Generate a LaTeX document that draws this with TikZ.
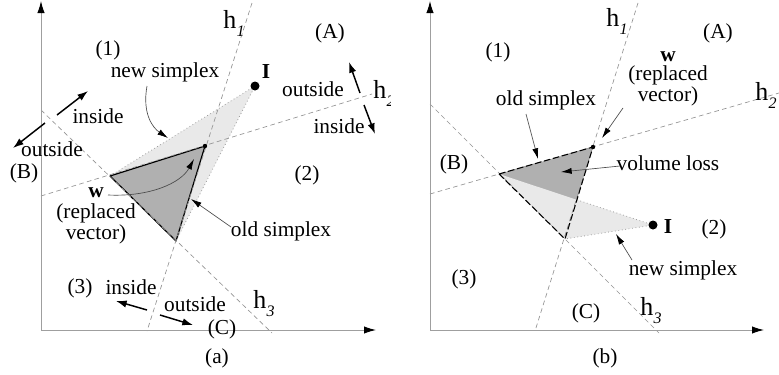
\documentclass[tikz,border=0pt]{standalone}
\usepackage{fontspec}
\setmainfont{Liberation Serif}
\usetikzlibrary{arrows.meta,calc,intersections}
\newcommand{\hsub}[1]{h\kern0.3pt\raisebox{-6pt}{\fontsize{12}{12}\selectfont\itshape #1}}
\begin{document}
\begin{tikzpicture}[x=0.75pt,y=-0.75pt,
  every node/.style={inner sep=0pt,font=\fontsize{16}{17}\selectfont},
  hline/.style={draw=gray!85,dash pattern=on 3.5pt off 2.5pt,line width=0.5pt},
  axisline/.style={draw=gray!75,line width=0.7pt,-{Latex[length=9pt,width=5.5pt,color=black]}},
  ann/.style={draw=gray!60!black,line width=0.5pt,-{Latex[length=8pt,width=4.5pt,color=black]}},
  dirarrow/.style={draw=black,line width=1.1pt,-{Latex[length=8pt,width=5.5pt]}},
  hlab/.style={anchor=base west,font=\fontsize{19.5}{20}\selectfont},
  darkfill/.style={fill=gray!62},
  lightfill/.style={fill=gray!17},
  newedge/.style={draw=gray!75,dotted,line width=0.6pt},
  oldsolid/.style={draw=black,line width=0.9pt,line join=round},
  olddash/.style={draw=black,line width=0.8pt,dash pattern=on 5pt off 2pt},
  bold/.style={font=\fontsize{16}{17}\selectfont\bfseries},
]
\useasboundingbox (0,0) rectangle (779,375);

% ================= panel (a) =================
\begin{scope}
\clip (0,0) rectangle (390,375);
\coordinate (aB) at (110,176);
\coordinate (aW) at (205,146);
\coordinate (aC) at (176,241);
\coordinate (aI) at (255,86);
\fill[lightfill] (aB) -- (aI) -- (aC) -- cycle;
\draw[newedge] (aB) -- (aI) -- (aC);
\filldraw[darkfill,oldsolid] (aB) -- (aW) -- (aC) -- cycle;
% hyperplanes
\coordinate (ah1s) at (252,3);   \coordinate (ah1e) at (147,331);
\coordinate (ah2s) at (41,196);  \coordinate (ah2e) at (372,94);
\coordinate (ah3s) at (41,110);  \coordinate (ah3e) at (272,333);
\draw[hline] (ah1s) -- (ah1e);
\draw[hline] (ah2s) -- (ah2e);
\draw[hline] (ah3s) -- (ah3e);
% axes
\coordinate (aO) at (41,330);
\coordinate (aY) at (41,1);
\coordinate (aX) at (376,330);
\draw[axisline] (aO) -- (aY);
\draw[axisline] (aO) -- (aX);
% points
\fill (aW) circle (2.2);
\fill (aI) circle (4.5);
\node[bold] (aIl) at (266,72) {I};
% h labels
\node[hlab] (ah1) at (223,28) {\hsub{1}};
\node[hlab] (ah2) at (373,98) {\hsub{2}};
\node[hlab] (ah3) at (253,308) {\hsub{3}};
% region labels
\node (a1) at (108,50) {(1)};
\node (aA) at (330,33) {(A)};
\node (a2) at (307,175) {(2)};
\node (aBl) at (24,173) {(B)};
\node (a3) at (80,288) {(3)};
\node (aCl) at (222,329) {(C)};
\node (acap) at (217,358) {(a)};
% annotations
\node (anew) at (165,72) {new simplex};
\draw[ann] (147,86) .. controls (142,114) and (153,128) .. (168,138);
\node[align=center,font=\fontsize{16}{16}\selectfont] (awl) at (96,216) {\textbf{w}\\(replaced\\vector)};
\draw[ann] (108,195) .. controls (150,197) and (181,183) .. (194,159);
\node (aold) at (281,231) {old simplex};
\draw[ann] (231,227) -- (191,199);
% inside / outside
\node (aout2) at (313,89) {outside};
\node (ain2) at (339,126) {inside};
\draw[dirarrow] (360,93) -- (349,62);
\draw[dirarrow] (364,105) -- (375,134);
\node (ain3) at (98,116) {inside};
\node (aout3) at (52,149) {outside};
\draw[dirarrow] (57,115) -- (88,91);
\draw[dirarrow] (45,123) -- (13,148);
\node (ain1) at (131,287) {inside};
\node (aout1) at (195,304) {outside};
\draw[dirarrow] (147,310) -- (116,301);
\draw[dirarrow] (160,315) -- (193,325);
\end{scope}

% ================= panel (b) =================
\coordinate (bB) at (499,174);
\coordinate (bW) at (593,147);
\coordinate (bC) at (565,239);
\coordinate (bI) at (653,225);
\path[name path=bBI] (bB) -- (bI);
\path[name path=bWC] (bW) -- (bC);
\path[name intersections={of=bBI and bWC,by=bX}];
\fill[darkfill] (bB) -- (bW) -- (bC) -- cycle;
\fill[lightfill] (bB) -- (bI) -- (bC) -- cycle;
\draw[newedge] (bX) -- (bI) -- (bC);
% hyperplanes
\coordinate (bh1s) at (638,3);   \coordinate (bh1e) at (535,331);
\coordinate (bh2s) at (430,194); \coordinate (bh2e) at (779,93);
\coordinate (bh3s) at (430,104); \coordinate (bh3e) at (659,333);
\draw[hline] (bh1s) -- (bh1e);
\draw[hline] (bh2s) -- (bh2e);
\draw[hline] (bh3s) -- (bh3e);
\draw[olddash] (bB) -- (bW) -- (bC) -- cycle;
% axes
\coordinate (bO) at (430,330);
\coordinate (bY) at (430,1);
\coordinate (bXa) at (764,330);
\draw[axisline] (bO) -- (bY);
\draw[axisline] (bO) -- (bXa);
% points
\fill (bW) circle (2.2);
\fill (bI) circle (4.5);
\node[bold] (bIl) at (668,227) {I};
% h labels
\node[hlab] (bh1) at (606,26) {\hsub{1}};
\node[hlab] (bh2) at (755,100) {\hsub{2}};
\node[hlab] (bh3) at (640,315) {\hsub{3}};
% region labels
\node (b1) at (498,52) {(1)};
\node (bA) at (718,33) {(A)};
\node (b2) at (714,229) {(2)};
\node (bBl) at (454,164) {(B)};
\node (b3) at (464,279) {(3)};
\node (bCl) at (586,313) {(C)};
\node (bcap) at (605,358) {(b)};
% annotations
\node[align=center,font=\fontsize{16}{14.5}\selectfont] (bwl) at (668,79) {\textbf{w}\\(replaced\\vector)};
\draw[ann] (623,108) -- (602,138);
\node (bold) at (546,100) {old simplex};
\draw[ann] (526,114) -- (538,159);
\node (bvol) at (668,163) {volume loss};
\draw[ann] (620,166) -- (561,172);
\node (bnew) at (683,270) {new simplex};
\draw[ann] (632,260) -- (616,234);
\end{tikzpicture}
\end{document}
